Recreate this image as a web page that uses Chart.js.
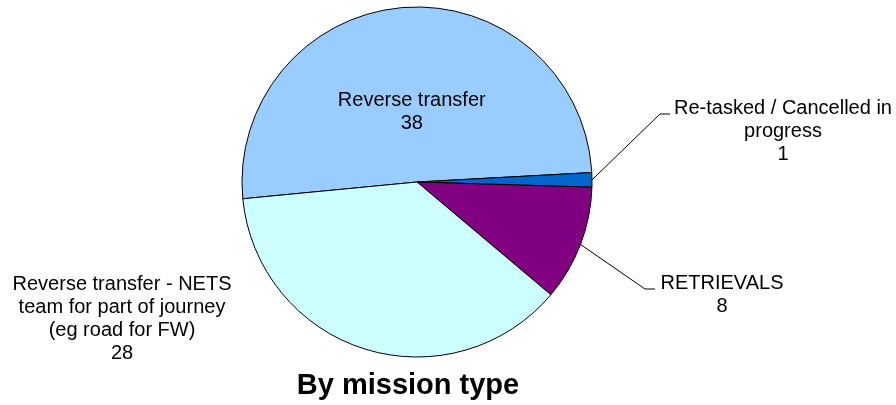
<!DOCTYPE html>
<html>
<head>
<meta charset="utf-8">
<script src="https://cdn.jsdelivr.net/npm/chart.js@4/dist/chart.umd.min.js"></script>
<style>
  html, body { margin:0; padding:0; background:#fff; }
</style>
</head>
<body>
<canvas id="Mission_Chart" width="896" height="405"></canvas>
<script>
// data
const categories = [
  ['Reverse transfer'],
  ['Re-tasked / Cancelled in', 'progress'],
  ['RETRIEVALS'],
  ['Reverse transfer - NETS', 'team for part of journey', '(eg road for FW)']
];
const values = [38, 1, 8, 28];
const sliceColors = ['#99CCFF', '#0066CC', '#800080', '#CCFFFF'];
const chartTitle = 'By mission type';

// where each label goes (inside the slice or outside with a leader line)
const labelPlace = [
  {inside: true, r: 0.4},
  {x: 783, y: 108, bend: [660, 114], end: 670},
  {x: 722, y: 283, bend: [645, 289], end: 655},
  {x: 122, y: 284}
];

const labelFont = '20px "Liberation Sans", Arial, sans-serif';
const lineH = 23;

const pieLabels = {
  id: 'pieLabels',
  afterDraw(chart){
    let ctx = chart.ctx;
    let meta = chart.getDatasetMeta(0);
    ctx.save();
    ctx.font = labelFont;
    ctx.fillStyle = '#000';
    ctx.strokeStyle = '#000';
    ctx.lineWidth = 1;
    ctx.textAlign = 'center';
    ctx.textBaseline = 'middle';
    meta.data.forEach(function(arc, i){
      let p = labelPlace[i];
      let mid = (arc.startAngle + arc.endAngle) / 2;
      let lines = categories[i].concat([String(values[i])]);
      let tx, ty;
      if(p.inside){
        let d = arc.outerRadius * p.r;
        tx = arc.x + Math.cos(mid) * d;
        ty = arc.y + Math.sin(mid) * d - (lines.length - 1) * lineH / 2;
      } else {
        tx = p.x;
        ty = p.y;
        if(p.bend){
          let ex = arc.x + Math.cos(mid) * arc.outerRadius;
          let ey = arc.y + Math.sin(mid) * arc.outerRadius;
          ctx.beginPath();
          ctx.moveTo(ex, ey);
          ctx.lineTo(p.bend[0], p.bend[1]);
          ctx.lineTo(p.end, p.bend[1]);
          ctx.stroke();
        }
      }
      for(let k=0; k<lines.length; k++){
        ctx.fillText(lines[k], tx, ty + k * lineH);
      }
    });
    // title
    ctx.font = 'bold 29px "Liberation Sans", Arial, sans-serif';
    ctx.fillText(chartTitle, 408, 386);
    ctx.restore();
  }
};

new Chart(document.getElementById('Mission_Chart').getContext('2d'), {
  type: 'pie',
  data: {
    labels: categories.map(c => c.join(' ')),
    datasets: [{
      data: values,
      backgroundColor: sliceColors,
      borderColor: '#000',
      borderWidth: 1,
      radius: 175
    }]
  },
  options: {
    responsive: false,
    animation: false,
    devicePixelRatio: 1,
    rotation: 264.5,
    layout: { padding: { left: 0, right: 62, top: 0, bottom: 41 } },
    plugins: {
      legend: { display: false },
      tooltip: { enabled: false },
      title: { display: false }
    }
  },
  plugins: [pieLabels]
});
</script>
</body>
</html>
